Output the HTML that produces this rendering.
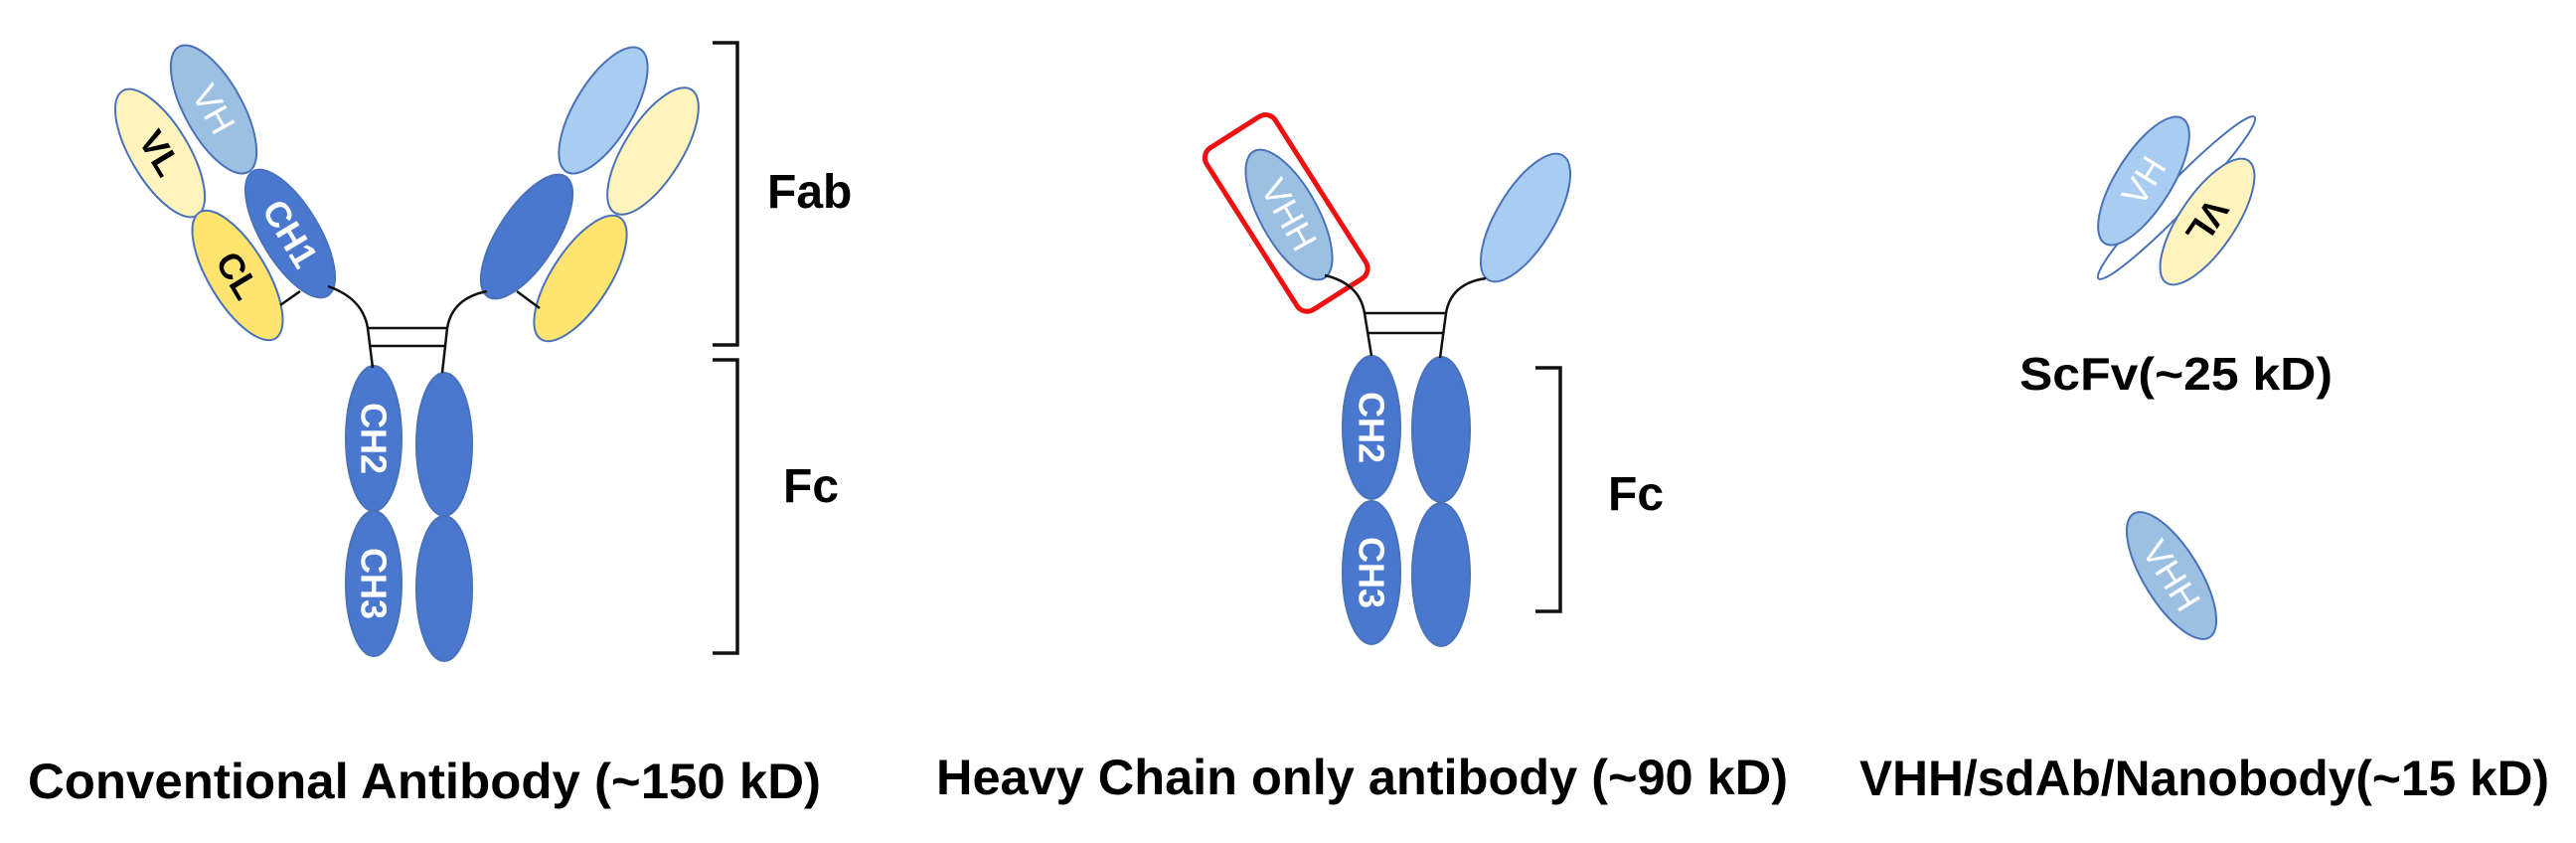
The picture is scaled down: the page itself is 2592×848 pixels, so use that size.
<!DOCTYPE html>
<html><head><meta charset="utf-8"><style>
html,body{margin:0;padding:0;background:#fff;}
svg{display:block;}
text{font-family:"Liberation Sans",Arial,sans-serif;}
</style></head><body>
<svg width="2592" height="848" viewBox="0 0 2592 848" xmlns="http://www.w3.org/2000/svg">
<g stroke="#4a72b8" stroke-width="2">
  <ellipse cx="215" cy="110" rx="29" ry="72" fill="#9bc0e2" transform="rotate(-29 215 110)"/>
  <ellipse cx="161" cy="154" rx="29" ry="73" fill="#fff4bd" transform="rotate(-31 161 154)"/>
  <ellipse cx="292" cy="235" rx="29" ry="73" fill="#4a78cf" transform="rotate(-31 292 235)"/>
  <ellipse cx="239" cy="277" rx="29" ry="74" fill="#ffe470" transform="rotate(-31 239 277)"/>
  <ellipse cx="607" cy="111" rx="29" ry="72" fill="#a9cdf0" transform="rotate(31 607 111)"/>
  <ellipse cx="657" cy="152" rx="29" ry="73" fill="#fff4bd" transform="rotate(32 657 152)"/>
  <ellipse cx="530" cy="238" rx="29" ry="72" fill="#4a78cf" transform="rotate(33 530 238)"/>
  <ellipse cx="584" cy="280" rx="29" ry="73" fill="#ffe470" transform="rotate(33 584 280)"/>
  <ellipse cx="376" cy="441" rx="28" ry="73" fill="#4a78cf"/>
  <ellipse cx="376" cy="587" rx="28" ry="73" fill="#4a78cf"/>
  <ellipse cx="447" cy="447" rx="28" ry="72" fill="#4a78cf"/>
  <ellipse cx="447" cy="592" rx="28" ry="73" fill="#4a78cf"/>
</g>
<g fill="none" stroke="#111" stroke-width="2.5">
  <path d="M330 288 Q365 300 370 330 L375 370"/>
  <path d="M490 293 Q455 300 450 330 L445 375"/>
  <line x1="370" y1="330" x2="450" y2="330"/>
  <line x1="372" y1="348" x2="448" y2="348"/>
  <line x1="282" y1="307" x2="302" y2="293"/>
  <line x1="520" y1="293" x2="543" y2="310"/>
</g>
<g fill="none" stroke="#111" stroke-width="3.5">
  <path d="M717 43 H742 V347 H717"/>
  <path d="M717 362 H742 V657 H717"/>
  <path d="M1545 370 H1570 V615 H1545"/>
</g>
<g font-size="36">
  <text x="215" y="110" fill="#fff" text-anchor="middle" dominant-baseline="central" transform="rotate(61 215 110)">VH</text>
  <text x="161" y="154" fill="#000" font-weight="bold" text-anchor="middle" dominant-baseline="central" transform="rotate(59 161 154)">VL</text>
  <text x="292" y="235" fill="#fff" font-weight="bold" text-anchor="middle" dominant-baseline="central" transform="rotate(59 292 235)">CH1</text>
  <text x="239" y="277" fill="#000" font-weight="bold" text-anchor="middle" dominant-baseline="central" transform="rotate(59 239 277)">CL</text>
  <text x="376" y="441" fill="#fff" font-weight="bold" text-anchor="middle" dominant-baseline="central" transform="rotate(90 376 441)">CH2</text>
  <text x="376" y="587" fill="#fff" font-weight="bold" text-anchor="middle" dominant-baseline="central" transform="rotate(90 376 587)">CH3</text>
</g>
<g stroke="#4a72b8" stroke-width="2">
  <ellipse cx="1297" cy="216" rx="29" ry="73" fill="#9bc0e2" transform="rotate(-29 1297 216)"/>
  <ellipse cx="1535" cy="219" rx="29" ry="73" fill="#a9cdf0" transform="rotate(31 1535 219)"/>
  <ellipse cx="1380" cy="430" rx="29" ry="72" fill="#4a78cf"/>
  <ellipse cx="1380" cy="576" rx="29" ry="72" fill="#4a78cf"/>
  <ellipse cx="1450" cy="432" rx="29" ry="73" fill="#4a78cf"/>
  <ellipse cx="1450" cy="578" rx="29" ry="72" fill="#4a78cf"/>
</g>
<rect x="1253" y="118" width="82" height="193" rx="12" fill="none" stroke="#ee1111" stroke-width="5" transform="rotate(-32.5 1294 214)"/>
<g fill="none" stroke="#111" stroke-width="2.5">
  <path d="M1333 277 Q1368 285 1373 315 L1380 358"/>
  <path d="M1495 280 Q1460 285 1455 315 L1449 360"/>
  <line x1="1373" y1="315" x2="1455" y2="315"/>
  <line x1="1376" y1="335" x2="1452" y2="335"/>
</g>
<g font-size="36">
  <text x="1297" y="216" fill="#fff" text-anchor="middle" dominant-baseline="central" transform="rotate(61 1297 216)">VHH</text>
  <text x="1380" y="430" fill="#fff" font-weight="bold" text-anchor="middle" dominant-baseline="central" transform="rotate(90 1380 430)">CH2</text>
  <text x="1380" y="576" fill="#fff" font-weight="bold" text-anchor="middle" dominant-baseline="central" transform="rotate(90 1380 576)">CH3</text>
</g>
<g stroke="#4a72b8" stroke-width="2">
  <ellipse cx="2190" cy="199" rx="14" ry="113" fill="#fff" transform="rotate(44 2190 199)"/>
  <ellipse cx="2157" cy="182" rx="28" ry="74" fill="#a9cdf0" transform="rotate(32 2157 182)"/>
  <ellipse cx="2221" cy="223" rx="28" ry="74" fill="#fff4bd" transform="rotate(34 2221 223)"/>
  <ellipse cx="2185" cy="579" rx="28" ry="73" fill="#9bc0e2" transform="rotate(-31.6 2185 579)"/>
</g>
<g font-size="36">
  <text x="2157" y="182" fill="#fff" text-anchor="middle" dominant-baseline="central" transform="rotate(-58 2157 182)">VH</text>
  <text x="2221" y="223" fill="#000" font-weight="bold" text-anchor="middle" dominant-baseline="central" transform="rotate(124 2221 223)">VL</text>
  <text x="2185" y="579" fill="#fff" text-anchor="middle" dominant-baseline="central" transform="rotate(58 2185 579)">VHH</text>
</g>
<g font-weight="bold" fill="#000">
  <text x="772" y="209" font-size="48">Fab</text>
  <text x="788" y="505" font-size="48">Fc</text>
  <text x="1618" y="513" font-size="48">Fc</text>
  <text x="2032" y="392" font-size="46" textLength="315" lengthAdjust="spacingAndGlyphs">ScFv(~25 kD)</text>
  <text x="28" y="803" font-size="50" textLength="798" lengthAdjust="spacingAndGlyphs">Conventional Antibody (~150 kD)</text>
  <text x="942" y="799" font-size="50" textLength="857" lengthAdjust="spacingAndGlyphs">Heavy Chain only antibody (~90 kD)</text>
  <text x="1871" y="800" font-size="50" textLength="694" lengthAdjust="spacingAndGlyphs">VHH/sdAb/Nanobody(~15 kD)</text>
</g>
</svg>
</body></html>
